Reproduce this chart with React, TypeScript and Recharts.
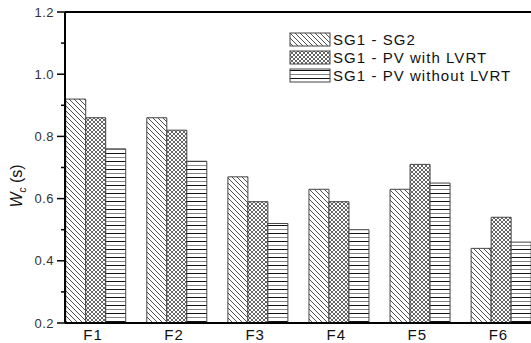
import { Bar, BarChart, ReferenceLine, XAxis, YAxis } from "recharts";

const categories = ["F1", "F2", "F3", "F4", "F5", "F6"];
const sg1Sg2 = [0.92, 0.86, 0.67, 0.63, 0.63, 0.44];
const pvWithLvrt = [0.86, 0.82, 0.59, 0.59, 0.71, 0.54];
const pvWithoutLvrt = [0.76, 0.72, 0.52, 0.5, 0.65, 0.46];
const seriesNames = ["SG1 - SG2", "SG1 - PV with LVRT", "SG1 - PV without LVRT"];
const yTicks = [0.2, 0.3, 0.4, 0.5, 0.6, 0.7, 0.8, 0.9, 1.0, 1.1, 1.2];

const patternIds = ["hatchDiag", "hatchCross", "hatchHoriz"];
const font = "'Liberation Sans', Arial, sans-serif";

const chartData = categories.map((c, i) => ({
  name: c,
  s1: sg1Sg2[i],
  s2: pvWithLvrt[i],
  s3: pvWithoutLvrt[i],
}));

function YTick({ x, y, payload }: any) {
  const v = payload.value as number;
  const major = Math.round(v * 10) % 2 === 0;
  const axisX = x + 11;
  const len = major ? 8 : 4;
  return (
    <g>
      <line x1={axisX - len} x2={axisX} y1={y} y2={y} stroke="#000" strokeWidth={1.5} />
      {major && (
        <text
          x={x}
          y={y}
          dy={4.5}
          textAnchor="end"
          fontSize={13}
          fill="#333"
          fontFamily={font}
          letterSpacing={0.5}
        >
          {v.toFixed(1)}
        </text>
      )}
    </g>
  );
}

function XTick({ x, y, payload }: any) {
  return (
    <text
      x={x - 3}
      y={y + 17}
      textAnchor="middle"
      fontSize={15}
      fill="#111"
      fontFamily={font}
      letterSpacing={1}
    >
      {payload.value}
    </text>
  );
}

function Patterns() {
  return (
    <svg width={0} height={0} style={{ position: "absolute" }}>
      <defs>
        <pattern id="hatchDiag" patternUnits="userSpaceOnUse" width={5} height={5}>
          <rect width={5} height={5} fill="#fff" />
          <path d="M-1,-1 L6,6 M-1,4 L1,6 M4,-1 L6,1" stroke="#222" strokeWidth={0.8} />
        </pattern>
        <pattern id="hatchCross" patternUnits="userSpaceOnUse" width={4} height={4}>
          <rect width={4} height={4} fill="#fff" />
          <path d="M-1,-1 L5,5 M-1,5 L5,-1" stroke="#222" strokeWidth={0.7} />
        </pattern>
        <pattern id="hatchHoriz" patternUnits="userSpaceOnUse" width={8} height={8}>
          <rect width={8} height={8} fill="#fff" />
          <line x1={0} x2={8} y1={1.5} y2={1.5} stroke="#111" strokeWidth={1} />
          <line x1={0} x2={8} y1={5.5} y2={5.5} stroke="#888" strokeWidth={1} />
        </pattern>
      </defs>
    </svg>
  );
}

export default function App() {
  return (
    <div
      style={{
        position: "absolute",
        left: 0,
        top: 0,
        width: 531,
        height: 343,
        overflow: "hidden",
        background: "#fff",
      }}
    >
      <Patterns />
      <BarChart
        width={560}
        height={343}
        data={chartData}
        margin={{ top: 12, right: 18, left: 0, bottom: 0 }}
        barCategoryGap="12.6%"
        barGap={0}
      >
        <XAxis
          dataKey="name"
          height={20}
          padding={{ left: -9.5, right: 0 }}
          tickLine={false}
          tickSize={0}
          tickMargin={0}
          tick={<XTick />}
          interval={0}
          axisLine={{ stroke: "#000", strokeWidth: 2 }}
        />
        <YAxis
          width={65}
          domain={[0.2, 1.2]}
          ticks={yTicks}
          interval={0}
          tickSize={8}
          tickMargin={3}
          tickLine={false}
          tick={<YTick />}
          axisLine={{ stroke: "#000", strokeWidth: 2 }}
        />
        <ReferenceLine y={1.2} stroke="#000" strokeWidth={2} />
        {["s1", "s2", "s3"].map((k, i) => (
          <Bar
            key={k}
            dataKey={k}
            name={seriesNames[i]}
            fill={`url(#${patternIds[i]})`}
            stroke="#444"
            strokeWidth={1}
            isAnimationActive={false}
          />
        ))}
      </BarChart>
      <svg
        width={531}
        height={343}
        style={{ position: "absolute", left: 0, top: 0, pointerEvents: "none" }}
      >
        <text
          transform="translate(22,186) rotate(-90)"
          textAnchor="middle"
          fontSize={16}
          fill="#111"
          fontFamily={font}
        >
          <tspan fontStyle="italic">W</tspan>
          <tspan fontStyle="italic" fontSize={10} dy={4}>
            c
          </tspan>
          <tspan dy={-4}> (s)</tspan>
        </text>
        {seriesNames.map((n, i) => (
          <g key={n} transform={`translate(290,${33 + i * 18})`}>
            <rect
              width={40}
              height={13}
              fill={`url(#${patternIds[i]})`}
              stroke="#444"
              strokeWidth={1}
            />
            <text
              x={43}
              y={12}
              fontSize={15}
              fill="#111"
              fontFamily={font}
              letterSpacing={1.05}
            >
              {n}
            </text>
          </g>
        ))}
      </svg>
    </div>
  );
}
